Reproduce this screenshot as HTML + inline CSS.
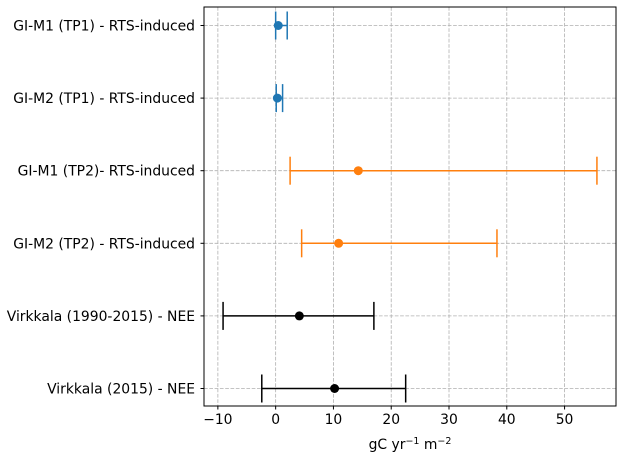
<!DOCTYPE html>
<html><head><meta charset="utf-8"><style>
body{margin:0;background:#fff;font-family:"Liberation Sans","DejaVu Sans",sans-serif}
svg text{font-family:"DejaVu Sans","Liberation Sans",sans-serif;font-size:13.9px;fill:#000}
</style></head><body>
<svg id="c" width="624" height="459"></svg>
<script>
const labels=["GI-M1 (TP1) - RTS-induced","GI-M2 (TP1) - RTS-induced","GI-M1 (TP2)- RTS-induced","GI-M2 (TP2) - RTS-induced","Virkkala (1990-2015) - NEE","Virkkala (2015) - NEE"];
const centers=[0.45,0.3,14.3,10.9,4.1,10.2];
const lows=[0.0,0.1,2.5,4.5,-9.1,-2.4];
const highs=[2.0,1.2,55.6,38.3,17.0,22.5];
const colors=["#1f77b4","#1f77b4","#ff7f0e","#ff7f0e","#000000","#000000"];
const xTicks=[-10,0,10,20,30,40,50];
const L=204,R=616,T=7,B=406;
const xmin=-12.4,xmax=58.9;
const X=v=>L+(v-xmin)/(xmax-xmin)*(R-L);
const Y=i=>25.5+i*(388.5-25.5)/(labels.length-1);
const s=document.getElementById('c');const NS="http://www.w3.org/2000/svg";
function mk(t,a,p){const e=document.createElementNS(NS,t);for(const k in a)e.setAttribute(k,a[k]);(p||s).appendChild(e);return e;}
xTicks.forEach(v=>{const g=mk('line',{x1:X(v),x2:X(v),y1:T,y2:B,stroke:'#b0b0b0','stroke-dasharray':'3.7,1.6','stroke-width':0.8});


const tk=mk('line',{x1:X(v),x2:X(v),y1:B,y2:B+3.5,stroke:'#000'});


const t=mk('text',{x:X(v),y:B+18,'text-anchor':'middle'});t.textContent=v<0?'\u2212'+(-v):v;

});
labels.forEach((lb,i)=>{const y=Y(i);
const g=mk('line',{x1:L,x2:R,y1:y,y2:y,stroke:'#b0b0b0','stroke-dasharray':'3.7,1.6','stroke-width':0.8});


const tk=mk('line',{x1:L-3.5,x2:L,y1:y,y2:y,stroke:'#000'});


const t=mk('text',{x:L-9,y:y+5,'text-anchor':'end'});t.textContent=lb;


const c=colors[i];
const ln=mk('line',{x1:X(lows[i]),x2:X(highs[i]),y1:y,y2:y,stroke:c,'stroke-width':1.5});


[lows[i],highs[i]].forEach(v=>{const cap=mk('line',{x1:X(v),x2:X(v),y1:y-14,y2:y+14,stroke:c,'stroke-width':1.5});

});
const p=mk('circle',{cx:X(centers[i]),cy:y,r:4.5,fill:c});

});
const fr=mk('rect',{x:L,y:T,width:R-L,height:B-T,fill:'none',stroke:'#000','stroke-width':1});


const xt=mk('text',{x:(L+R)/2,y:449,'text-anchor':'middle'});
xt.innerHTML='gC yr<tspan dy="-5" font-size="9.5">\u22121</tspan><tspan dy="5"> m</tspan><tspan dy="-5" font-size="9.5">\u22122</tspan>';


</script></body></html>
